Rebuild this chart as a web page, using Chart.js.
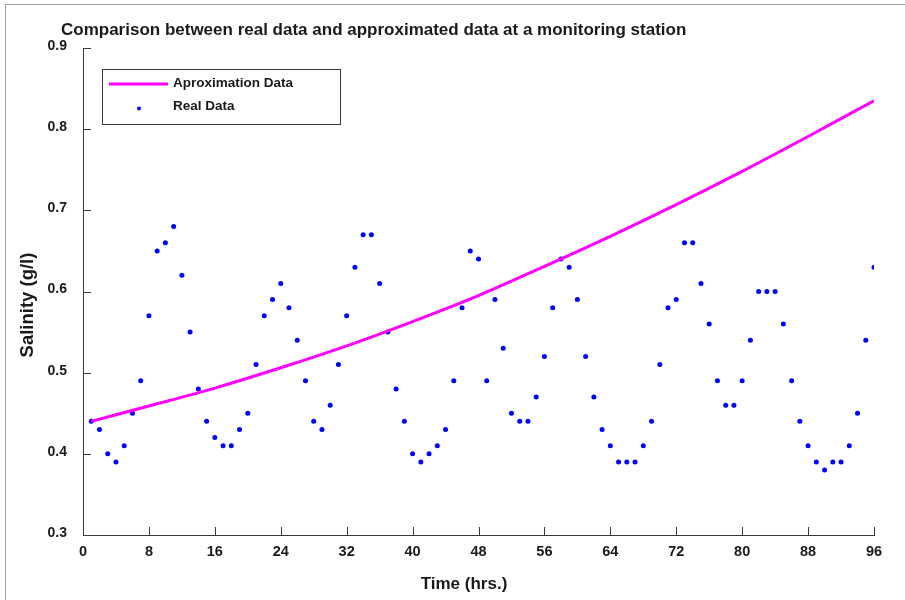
<!DOCTYPE html>
<html>
<head>
<meta charset="utf-8">
<script src="https://cdn.jsdelivr.net/npm/chart.js@4.4.1/dist/chart.umd.min.js"></script>
<style>
  body { margin: 0; background: #fff; }
  #wrap { position: relative; width: 905px; height: 600px; overflow: hidden; }
  #frame { position: absolute; left: 5px; top: 4px; width: 1000px; height: 1000px; border: 1px solid #a0a0a0; }
  canvas { position: absolute; left: 0; top: 0; }
</style>
</head>
<body>
<div id="wrap"><div id="frame"></div><canvas id="salinityChart" width="905" height="600"></canvas></div>
<script>
// hourly readings at the station
const hours = [1, 2, 3, 4, 5, 6, 7, 8, 9, 10, 11, 12, 13, 14, 15, 16, 17, 18, 19, 20, 21, 22, 23, 24,
  25, 26, 27, 28, 29, 30, 31, 32, 33, 34, 35, 36, 37, 38, 39, 40, 41, 42, 43, 44, 45, 46, 47, 48,
  49, 50, 51, 52, 53, 54, 55, 56, 57, 58, 59, 60, 61, 62, 63, 64, 65, 66, 67, 68, 69, 70, 71, 72,
  73, 74, 75, 76, 77, 78, 79, 80, 81, 82, 83, 84, 85, 86, 87, 88, 89, 90, 91, 92, 93, 94, 95, 96];
const realData = [0.44, 0.43, 0.40, 0.39, 0.41, 0.45, 0.49, 0.57, 0.65, 0.66, 0.68, 0.62, 0.55, 0.48, 0.44, 0.42, 0.41, 0.41, 0.43, 0.45, 0.51, 0.57, 0.59, 0.61,
  0.58, 0.54, 0.49, 0.44, 0.43, 0.46, 0.51, 0.57, 0.63, 0.67, 0.67, 0.61, 0.55, 0.48, 0.44, 0.40, 0.39, 0.40, 0.41, 0.43, 0.49, 0.58, 0.65, 0.64,
  0.49, 0.59, 0.53, 0.45, 0.44, 0.44, 0.47, 0.52, 0.58, 0.64, 0.63, 0.59, 0.52, 0.47, 0.43, 0.41, 0.39, 0.39, 0.39, 0.41, 0.44, 0.51, 0.58, 0.59,
  0.66, 0.66, 0.61, 0.56, 0.49, 0.46, 0.46, 0.49, 0.54, 0.60, 0.60, 0.60, 0.56, 0.49, 0.44, 0.41, 0.39, 0.38, 0.39, 0.39, 0.41, 0.45, 0.54, 0.63];

// approximation curve
const approxHours = [1, 8, 16, 24, 32, 40, 48, 56, 64, 72, 80, 88, 96];
const approxData = [0.440, 0.459, 0.481, 0.506, 0.533, 0.563, 0.595, 0.631, 0.668, 0.707, 0.748, 0.791, 0.835];

const xTicks = [0, 8, 16, 24, 32, 40, 48, 56, 64, 72, 80, 88, 96];
const yTicks = [0.3, 0.4, 0.5, 0.6, 0.7, 0.8, 0.9];

const FONT = '"Liberation Sans", Arial, sans-serif';
const TEXT = '#1a1a1a';
const AXIS = '#3a3a3a';

// ticks pointing into the plot, like the original
const inwardTicks = {
  id: 'inwardTicks',
  beforeDatasetsDraw(chart) {
    const { ctx, chartArea, scales } = chart;
    ctx.save();
    ctx.strokeStyle = AXIS;
    ctx.lineWidth = 1;
    ctx.beginPath();
    scales.x.ticks.forEach(t => {
      const px = Math.round(scales.x.getPixelForValue(t.value)) + 0.5;
      ctx.moveTo(px, chartArea.bottom);
      ctx.lineTo(px, chartArea.bottom - 8);
    });
    scales.y.ticks.forEach(t => {
      const py = Math.round(scales.y.getPixelForValue(t.value)) + 0.5;
      ctx.moveTo(chartArea.left, py);
      ctx.lineTo(chartArea.left + 8, py);
    });
    ctx.stroke();
    ctx.restore();
  }
};

// titles + boxed legend inside the plot
const decorations = {
  id: 'decorations',
  afterDraw(chart) {
    const ctx = chart.ctx;
    ctx.save();
    ctx.fillStyle = TEXT;
    ctx.textBaseline = 'middle';
    ctx.font = 'bold 17px ' + FONT;
    ctx.fillText('Comparison between real data and approximated data at a monitoring station', 61, 30);

    // axis titles
    ctx.textAlign = 'center';
    ctx.font = 'bold 17px ' + FONT;
    ctx.fillText('Time (hrs.)', 464, 584);
    ctx.save();
    ctx.translate(28, 305);
    ctx.rotate(-Math.PI / 2);
    ctx.font = 'bold 18.5px ' + FONT;
    ctx.fillText('Salinity (g/l)', 0, 0);
    ctx.restore();
    ctx.textAlign = 'left';

    ctx.strokeStyle = AXIS;
    ctx.lineWidth = 1;
    ctx.strokeRect(102.5, 69.5, 238, 55);

    const ds = chart.data.datasets;
    ctx.strokeStyle = ds[0].borderColor;
    ctx.lineWidth = 3;
    ctx.beginPath();
    ctx.moveTo(109, 84);
    ctx.lineTo(168, 84);
    ctx.stroke();

    ctx.fillStyle = ds[1].backgroundColor;
    ctx.beginPath();
    ctx.arc(139, 108.5, 2, 0, Math.PI * 2);
    ctx.fill();

    ctx.fillStyle = TEXT;
    ctx.font = 'bold 13.5px ' + FONT;
    ctx.fillText(ds[0].label, 173, 83);
    ctx.fillText(ds[1].label, 173, 106);
    ctx.restore();
  }
};

const ctx = document.getElementById('salinityChart').getContext('2d');
new Chart(ctx, {
  type: 'scatter',
  data: {
    datasets: [
      {
        type: 'line',
        label: 'Aproximation Data',
        data: approxHours.map((h, i) => ({ x: h, y: approxData[i] })),
        borderColor: '#ff00ff',
        backgroundColor: '#ff00ff',
        borderWidth: 3,
        pointRadius: 0,
        cubicInterpolationMode: 'monotone',
        fill: false
      },
      {
        label: 'Real Data',
        data: hours.map((h, i) => ({ x: h, y: realData[i] })),
        backgroundColor: '#0000ff',
        borderWidth: 0,
        pointRadius: 2.5
      }
    ]
  },
  options: {
    responsive: false,
    animation: false,
    layout: { padding: { left: 0, right: 31, top: 48, bottom: 0 } },
    plugins: { legend: { display: false }, tooltip: { enabled: false } },
    scales: {
      x: {
        type: 'linear',
        min: 0,
        max: 96,
        afterBuildTicks: s => { s.ticks = xTicks.map(v => ({ value: v })); },
        afterFit: s => { s.height = 65; },
        grid: { drawOnChartArea: false, drawTicks: false },
        border: { display: true, color: AXIS, width: 1 },
        ticks: { padding: 8, color: TEXT, font: { family: FONT, size: 14.5, weight: 'bold' }, maxRotation: 0 }
      },
      y: {
        min: 0.3,
        max: 0.9,
        afterBuildTicks: s => { s.ticks = yTicks.map(v => ({ value: v })); },
        afterFit: s => { s.width = 83; },
        grid: { drawOnChartArea: false, drawTicks: false },
        border: { display: true, color: AXIS, width: 1 },
        ticks: { padding: 16, labelOffset: -2, color: TEXT, font: { family: FONT, size: 14, weight: 'bold' }, callback: v => v.toFixed(1) }
      }
    }
  },
  plugins: [inwardTicks, decorations]
});
</script>
</body>
</html>
